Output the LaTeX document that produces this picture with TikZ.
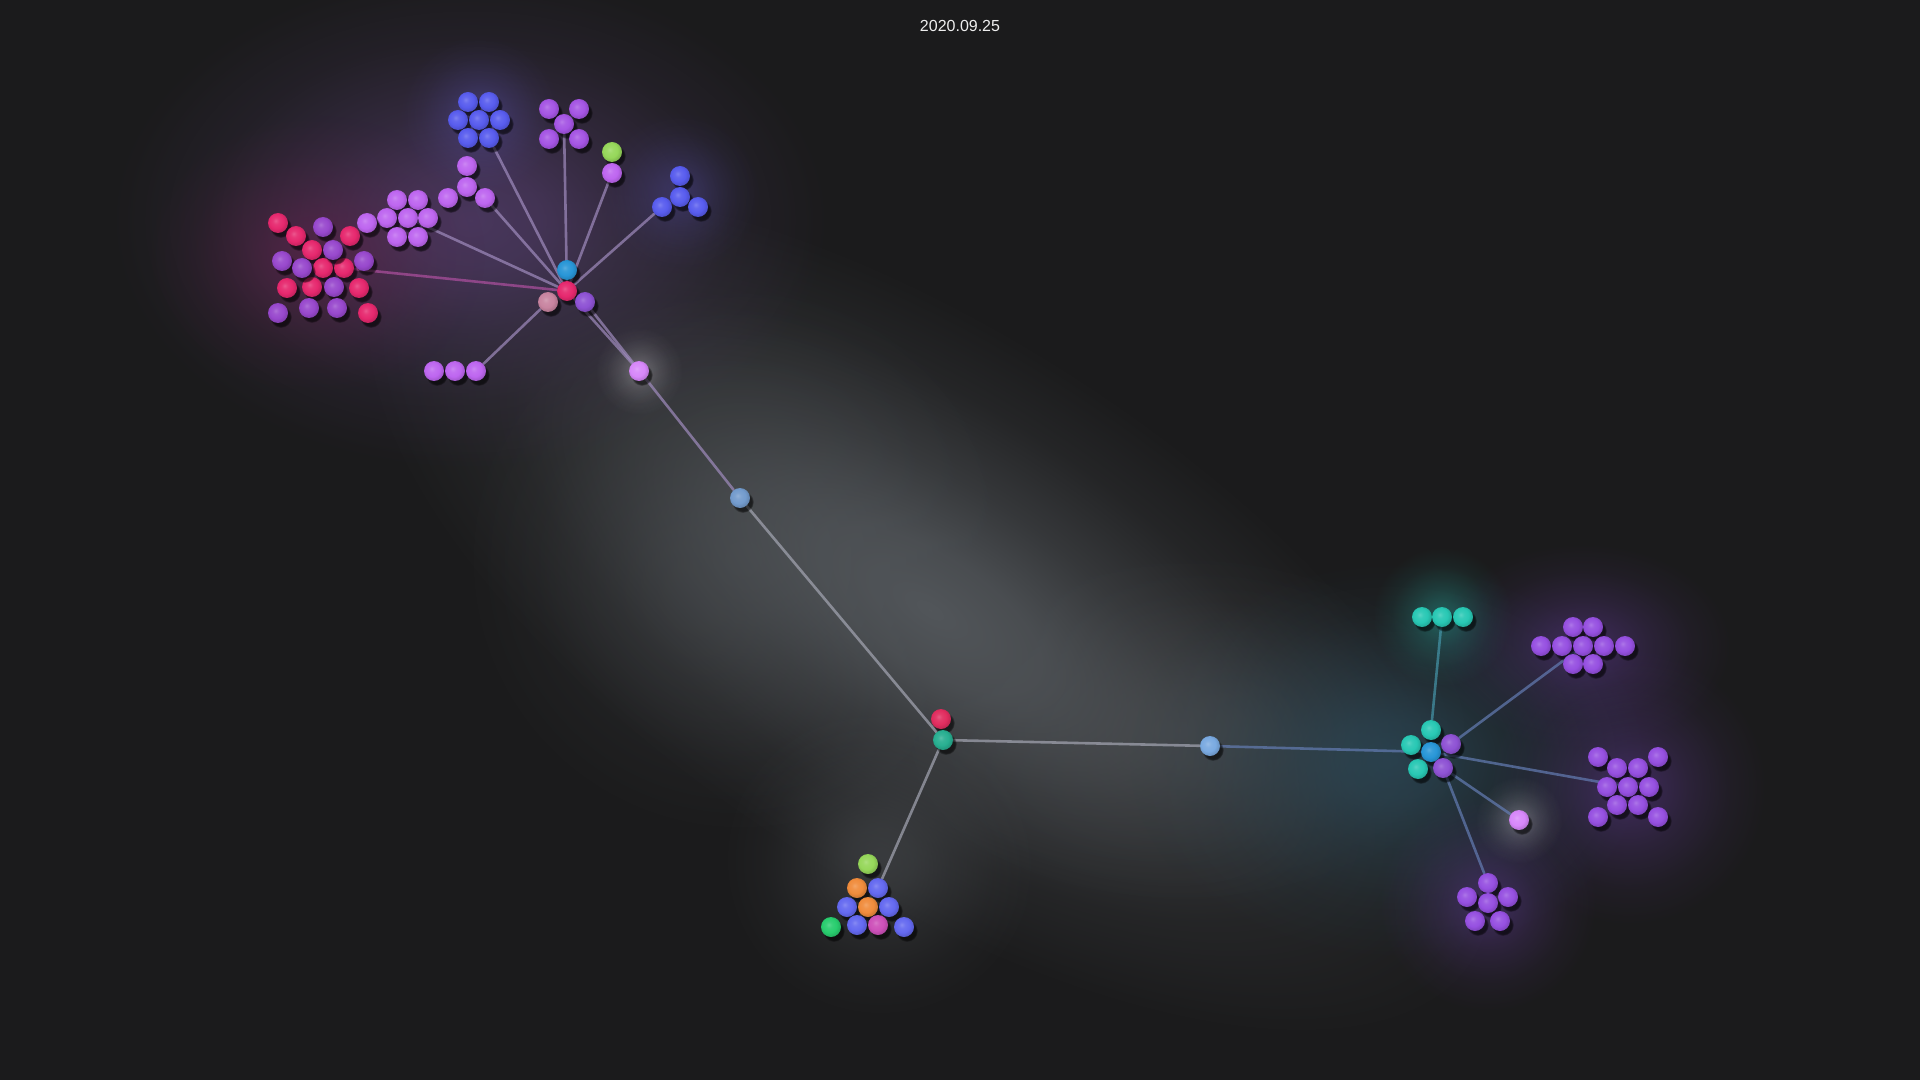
\documentclass[tikz,border=0pt]{standalone}
\usepackage{fontspec}
\setmainfont{Liberation Sans}
\usetikzlibrary{shadows,fadings}
\definecolor{bgc}{RGB}{27,27,28}
\definecolor{cblue}{RGB}{88,92,238}
\definecolor{cpurple}{RGB}{165,85,228}
\definecolor{clav}{RGB}{190,102,240}
\definecolor{cgreen}{RGB}{150,215,90}
\definecolor{cred}{RGB}{230,40,110}
\definecolor{cviolet}{RGB}{152,72,205}
\definecolor{chubblue}{RGB}{40,150,215}
\definecolor{cmauve}{RGB}{200,132,160}
\definecolor{chubpur}{RGB}{142,82,212}
\definecolor{cglow}{RGB}{215,135,250}
\definecolor{csteel}{RGB}{115,155,205}
\definecolor{csteel2}{RGB}{122,170,225}
\definecolor{cred2}{RGB}{225,45,95}
\definecolor{cteal2}{RGB}{40,175,145}
\definecolor{corange}{RGB}{240,140,60}
\definecolor{cblue2}{RGB}{100,105,240}
\definecolor{cgreen2}{RGB}{40,205,110}
\definecolor{cmag}{RGB}{205,80,185}
\definecolor{cteal}{RGB}{40,200,180}
\definecolor{cpur2}{RGB}{150,80,225}
\definecolor{eA}{RGB}{160,140,190}
\definecolor{ePink}{RGB}{175,80,160}
\definecolor{eGrey}{RGB}{165,167,180}
\definecolor{eBlue}{RGB}{100,125,180}
\definecolor{eTeal}{RGB}{70,150,170}
\definecolor{gband}{RGB}{82,86,90}
\definecolor{gpurple}{RGB}{78,58,100}
\definecolor{gpink}{RGB}{105,35,80}
\definecolor{gblue}{RGB}{95,90,200}
\definecolor{gteal}{RGB}{40,160,150}
\definecolor{gdteal}{RGB}{45,80,98}
\definecolor{gvio}{RGB}{100,60,155}
\colorlet{sphbase}{gray}
\pgfdeclareradialshading[sphbase]{sphere}{\pgfqpoint{-6bp}{6bp}}{%
  color(0bp)=(sphbase!78!white); color(8bp)=(sphbase!93!white);
  color(18bp)=(sphbase); color(28bp)=(sphbase!84!black);
  color(40bp)=(sphbase!65!black); color(60bp)=(sphbase!65!black)}
\pgfdeclareradialshading{glowshade}{\pgfpointorigin}{%
  color(0bp)=(white); color(5bp)=(white!85!black); color(11bp)=(white!50!black);
  color(18bp)=(white!18!black); color(25bp)=(black); color(50bp)=(black)}
\pgfdeclarefading{glowfade}{\pgfuseshading{glowshade}}
\pgfdeclarelayer{glowlayer}
\pgfdeclarelayer{edgelayer}
\pgfsetlayers{glowlayer,edgelayer,main}
\tikzset{
  ball/.style={circle, minimum size=10pt, inner sep=0pt, draw=none,
    /utils/exec={\colorlet{sphbase}{#1}}, shading=sphere, shade,
    drop shadow={shadow xshift=1.3pt, shadow yshift=-1.8pt, opacity=0.6,
      fill=black, shadow scale=1.1, path fading=circle with fuzzy edge 20 percent}},
  link/.style={draw=#1, line width=1.3pt, draw opacity=0.7, line cap=round},
  glow/.style={fill=#1, path fading=glowfade}
}
\begin{document}
\begin{tikzpicture}[x=0.5pt,y=-0.5pt]
\begin{pgfonlayer}{glowlayer}
\fill[bgc] (0,0) rectangle (1920,1080);
\useasboundingbox (0,0) rectangle (1920,1080);
% main grey band
\begin{scope}[transform canvas={rotate around={-33:(930,610)}}]
\fill[glow=gband] (930,610) ellipse [x radius=330pt, y radius=140pt];
\end{scope}
\fill[glow=gband, fill opacity=0.5] (740,560) circle (140pt);
\fill[glow=gband, fill opacity=0.45] (1180,730) ellipse [x radius=150pt, y radius=90pt];
\fill[glow=gband, fill opacity=0.5] (880,860) circle (80pt);
% top-left hazes
\fill[glow=gpurple, fill opacity=0.9] (470,220) ellipse [x radius=180pt, y radius=125pt];
\fill[glow=gpink, fill opacity=0.55] (315,255) ellipse [x radius=85pt, y radius=70pt];
\fill[glow=gblue, fill opacity=0.35] (480,115) circle (40pt);
\fill[glow=gblue, fill opacity=0.3] (680,192) circle (40pt);
\fill[glow=white, fill opacity=0.25] (639,371) circle (22pt);
% right hazes
\fill[glow=gdteal, fill opacity=0.65] (1390,760) ellipse [x radius=130pt, y radius=100pt];
\fill[glow=gteal, fill opacity=0.45] (1442,617) circle (35pt);
\fill[glow=gvio, fill opacity=0.45] (1583,646) ellipse [x radius=75pt, y radius=52pt];
\fill[glow=gvio, fill opacity=0.45] (1628,787) circle (70pt);
\fill[glow=gvio, fill opacity=0.45] (1488,903) circle (55pt);
\fill[glow=white, fill opacity=0.25] (1519,820) circle (22pt);
\end{pgfonlayer}

\node[text={rgb,255:red,238;green,238;blue,238}, font=\fontsize{8}{10}\selectfont] (title) at (960,26) {2020.09.25};

% ---- top-left group
\foreach \n/\x/\y in {b1/468/102,b2/489/102,b3/458/120,b4/479/120,b5/500/120,b6/468/138,b7/489/138}
  \node[ball=cblue] (\n) at (\x,\y) {};
\foreach \n/\x/\y in {p1/549/109,p2/579/109,p3/564/124,p4/549/139,p5/579/139}
  \node[ball=cpurple] (\n) at (\x,\y) {};
\node[ball=cgreen] (g1) at (612,152) {};
\node[ball=clav] (q1) at (612,173) {};
\foreach \n/\x/\y in {t1/680/176,t2/680/197,t3/662/207,t4/698/207}
  \node[ball=cblue] (\n) at (\x,\y) {};
\foreach \n/\x/\y in {u1/467/166,u2/467/187,u3/448/198,u4/485/198}
  \node[ball=clav] (\n) at (\x,\y) {};
\foreach \n/\x/\y in {v1/397/200,v2/418/200,v3/387/218,v4/408/218,v5/428/218,v6/397/237,v7/418/237,v8/367/223}
  \node[ball=clav] (\n) at (\x,\y) {};
\foreach \n/\x/\y in {r1/278/223,r2/296/236,r4/350/236,r5/312/250,r9/323/268,r10/344/268,r12/287/288,r13/312/287,r15/359/288,r19/368/313}
  \node[ball=cred] (\n) at (\x,\y) {};
\foreach \n/\x/\y in {r3/323/227,r6/333/250,r7/282/261,r8/302/268,r11/364/261,r14/334/287,r16/278/313,r17/309/308,r18/337/308}
  \node[ball=cviolet] (\n) at (\x,\y) {};
\node[ball=chubblue] (hb) at (567,270) {};
\node[ball=cred] (hr) at (567,291) {};
\node[ball=cmauve] (hm) at (548,302) {};
\node[ball=chubpur] (hp) at (585,302) {};
\foreach \n/\x/\y in {w1/434/371,w2/455/371,w3/476/371}
  \node[ball=clav] (\n) at (\x,\y) {};
\node[ball=cglow] (gl1) at (639,371) {};

% ---- middle
\node[ball=csteel] (m1) at (740,498) {};
\node[ball=cred2] (br) at (941,719) {};
\node[ball=cteal2] (bt) at (943,740) {};
\node[ball=csteel2] (m2) at (1210,746) {};

% ---- bottom cluster
\node[ball=cgreen] (k1) at (868,864) {};
\node[ball=corange] (k2) at (857,888) {};
\node[ball=cblue2] (k3) at (878,888) {};
\node[ball=cblue2] (k4) at (847,907) {};
\node[ball=corange] (k5) at (868,907) {};
\node[ball=cblue2] (k6) at (889,907) {};
\node[ball=cgreen2] (k7) at (831,927) {};
\node[ball=cblue2] (k8) at (857,925) {};
\node[ball=cmag] (k9) at (878,925) {};
\node[ball=cblue2] (k10) at (904,927) {};

% ---- right group
\node[ball=cteal] (ht) at (1431,730) {};
\node[ball=cteal] (hl) at (1411,745) {};
\node[ball=chubblue] (hc) at (1431,752) {};
\node[ball=chubpur] (hq) at (1451,744) {};
\node[ball=cteal] (hs) at (1418,769) {};
\node[ball=chubpur] (hu) at (1443,768) {};
\foreach \n/\x/\y in {s1/1422/617,s2/1442/617,s3/1463/617}
  \node[ball=cteal] (\n) at (\x,\y) {};
\foreach \n/\x/\y in {a1/1573/627,a2/1593/627,a3/1541/646,a4/1562/646,a5/1583/646,a6/1604/646,a7/1625/646,a8/1573/664,a9/1593/664}
  \node[ball=cpur2] (\n) at (\x,\y) {};
\node[ball=cglow] (gl2) at (1519,820) {};
\foreach \n/\x/\y in {x1/1598/757,x2/1658/757,x3/1617/768,x4/1638/768,x5/1607/787,x6/1628/787,x7/1649/787,x8/1617/805,x9/1638/805,x10/1598/817,x11/1658/817}
  \node[ball=cpur2] (\n) at (\x,\y) {};
\foreach \n/\x/\y in {y1/1488/883,y2/1467/897,y3/1508/897,y4/1488/903,y5/1475/921,y6/1500/921}
  \node[ball=cpur2] (\n) at (\x,\y) {};

% ---- connectors
\begin{pgfonlayer}{edgelayer}
\draw[link=eA] (hr) -- (b7);
\draw[link=eA] (hr) -- (p3);
\draw[link=eA] (hr) -- (q1);
\draw[link=eA] (hr) -- (t3);
\draw[link=eA] (hr) -- (u4);
\draw[link=eA] (hr) -- (v4);
\draw[link=ePink] (hr) -- (r10);
\draw[link=eA] (hm) -- (w3);
\draw[link=eA] (hr) -- (gl1);
\draw[link=eA] (hp) -- (m1);
\draw[link=eGrey] (m1) -- (bt);
\draw[link=eGrey] (bt) -- (m2);
\draw[link=eGrey] (bt) -- (k3);
\draw[link=eBlue] (m2) -- (hc);
\draw[link=eTeal] (ht) -- (s2);
\draw[link=eBlue] (hq) -- (a5);
\draw[link=eBlue] (hc) -- (x6);
\draw[link=eBlue] (hu) -- (gl2);
\draw[link=eBlue] (hu) -- (y1);
\end{pgfonlayer}
\end{tikzpicture}
\end{document}
